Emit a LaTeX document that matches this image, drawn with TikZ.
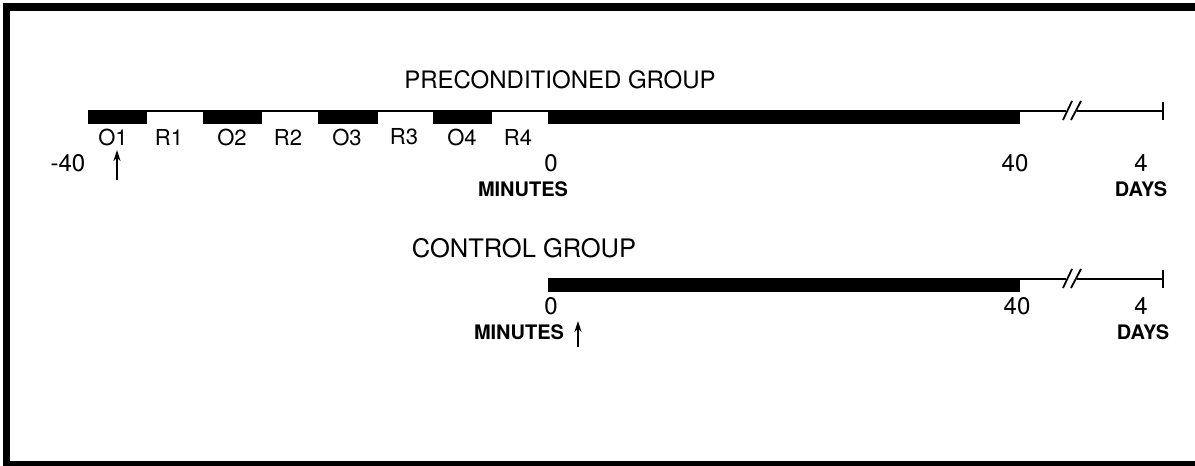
\documentclass[tikz,border=0pt]{standalone}
\usepackage{fontspec}
\setmainfont{TeX Gyre Heros}
\usetikzlibrary{arrows.meta}
\begin{document}
\begin{tikzpicture}[x=1pt,y=-1pt,
  title/.style={font=\fontsize{24}{24}\selectfont, inner sep=0pt},
  lab/.style={font=\fontsize{22}{22}\selectfont, inner sep=0pt},
  num/.style={font=\fontsize{24}{24}\selectfont, inner sep=0pt},
  unit/.style={font=\bfseries\fontsize{20}{20}\selectfont, inner sep=0pt},
  axis/.style={line width=1.8pt},
  barfill/.style={fill=black},
  uparrow/.style={-{Stealth[length=11pt,width=7pt]}, line width=2.4pt}]
\useasboundingbox (0,0) rectangle (1195,466);
% frame
\fill (3,3) rectangle (1195,11);
\fill (3,3) rectangle (10,466);
\fill (3,461) rectangle (1195,466);

% ---------------- preconditioned group
\node[title] (ptitle) at (560,80) {PRECONDITIONED GROUP};
\coordinate (pstart) at (88,111);
\coordinate (pzero) at (548,111);
\coordinate (pforty) at (1020,111);
\coordinate (pbreakA) at (1066,111);
\coordinate (pbreakB) at (1077,111);
\coordinate (pend) at (1163,111);
\draw[axis] (pstart) -- (pbreakA);
\draw[axis] (pbreakB) -- (pend);
\draw[axis] (1163,102) -- (1163,120);
\draw[axis] (1063,120) -- (1072,101);
\draw[axis] (1071,120) -- (1081,101);
\fill[barfill] (88,110) rectangle (147,124);
\fill[barfill] (203,110) rectangle (262,124);
\fill[barfill] (318,110) rectangle (378,124);
\fill[barfill] (433,110) rectangle (492,124);
\fill[barfill] (548,110) rectangle (1020,124);

\node[lab] (o1) at (113,137) {O1};
\node[lab] (r1) at (169,137) {R1};
\node[lab] (o2) at (232,137) {O2};
\node[lab] (r2) at (288,137) {R2};
\node[lab] (o3) at (347,137) {O3};
\node[lab] (r3) at (404,137) {R3};
\node[lab] (o4) at (462,137) {O4};
\node[lab] (r4) at (518,137) {R4};

\node[num] (pm40) at (68,163) {-40};
\node[num] (p0) at (551,163) {0};
\node[num] (p40) at (1015,163) {40};
\node[num] (p4) at (1141,163) {4};
\node[unit] (pmin) at (523,189) {MINUTES};
\node[unit] (pdays) at (1141,189) {DAYS};
\coordinate (parrowtail) at (117,180);
\coordinate (parrowhead) at (117,150);
\draw[uparrow] (parrowtail) -- (parrowhead);

% ---------------- control group
\node[title,font=\fontsize{25.5}{26}\selectfont] (ctitle) at (524,248) {CONTROL GROUP};
\coordinate (czero) at (548,279);
\coordinate (cbreakA) at (1066,279);
\coordinate (cbreakB) at (1077,279);
\coordinate (cend) at (1163,279);
\draw[axis] (czero) -- (cbreakA);
\draw[axis] (cbreakB) -- (cend);
\draw[axis] (1163,270) -- (1163,288);
\draw[axis] (1063,288) -- (1072,269);
\draw[axis] (1071,288) -- (1081,269);
\fill[barfill] (548,278) rectangle (1020,292);

\node[num] (c0) at (551,306) {0};
\node[num] (c40) at (1017,306) {40};
\node[num] (c4) at (1141,306) {4};
\node[unit] (cmin) at (519,332) {MINUTES};
\node[unit] (cdays) at (1143,332) {DAYS};
\coordinate (carrowtail) at (578,347);
\coordinate (carrowhead) at (578,321);
\draw[uparrow] (carrowtail) -- (carrowhead);
\end{tikzpicture}
\end{document}
